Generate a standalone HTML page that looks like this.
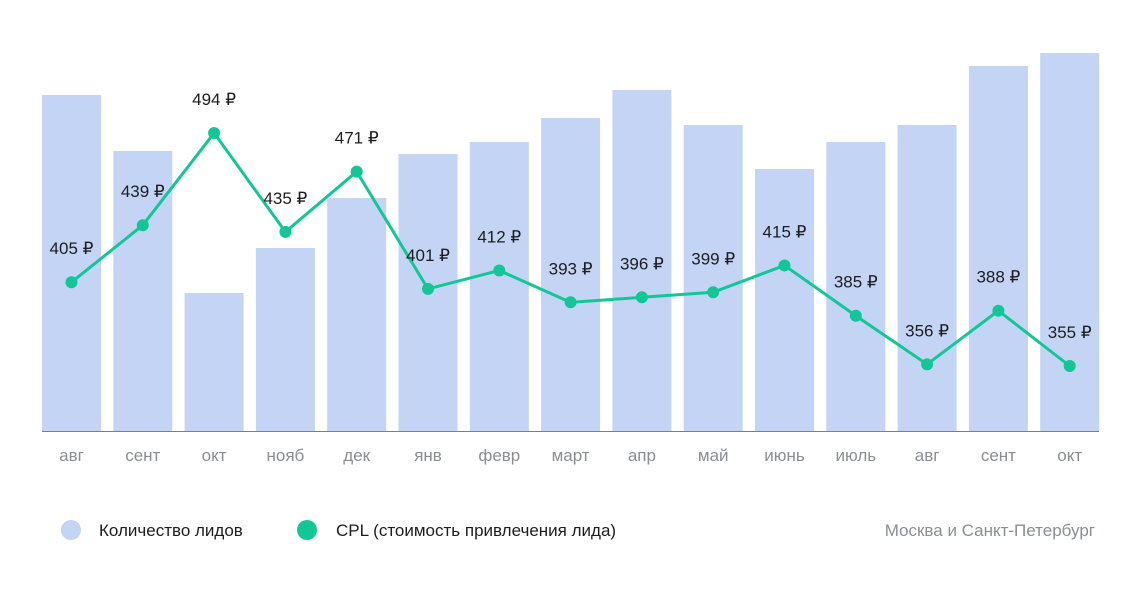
<!DOCTYPE html>
<html><head><meta charset="utf-8">
<style>
html,body{margin:0;padding:0;background:#fff;}
body{width:1140px;height:588px;overflow:hidden;font-family:"Liberation Sans",sans-serif;}
svg text{font-family:"Liberation Sans",sans-serif;}
</style></head>
<body>
<svg id="chart" width="1140" height="588" viewBox="0 0 1140 588" xmlns="http://www.w3.org/2000/svg">
<g id="bars"></g>
<line x1="42" y1="431.5" x2="1099" y2="431.5" stroke="#7a7f88" stroke-width="1"/>
<g id="xlabels"></g>
<g id="line"></g>
<g>
<circle cx="71" cy="530" r="10" fill="#c3d4f5"/>
<text x="99" y="536" font-size="17" fill="#1d1d1f">Количество лидов</text>
<circle cx="307" cy="530" r="10" fill="#12c795"/>
<text x="336" y="536" font-size="17" fill="#1d1d1f">CPL (стоимость привлечения лида)</text>
<text x="1095" y="536" font-size="17" fill="#8a8d93" text-anchor="end">Москва и Санкт-Петербург</text>
</g>
</svg>
<script>
const categories = ["авг","сент","окт","нояб","дек","янв","февр","март","апр","май","июнь","июль","авг","сент","окт"];
const leads = [336,280,138,183,233,277,289,313,341,306,262,289,306,365,378];
const cpl = [405,439,494,435,471,401,412,393,396,399,415,385,356,388,355];

const NS="http://www.w3.org/2000/svg";
const x0=42, step=71.3, barW=59, base=431;
function xCenter(i){return x0+i*step+barW/2;}
function yBar(v){return base-v;}
function yLine(v){return 366-(v-355)*1.676;}

const gb=document.getElementById('bars');
const gx=document.getElementById('xlabels');
const gl=document.getElementById('line');
categories.forEach((c,i)=>{
  const r=document.createElementNS(NS,'rect');
  r.setAttribute('x',x0+i*step);r.setAttribute('y',yBar(leads[i]));
  r.setAttribute('width',barW);r.setAttribute('height',base-yBar(leads[i]));
  r.setAttribute('fill','#c3d4f5');
  
  
  gb.appendChild(r);
  const t=document.createElementNS(NS,'text');
  t.setAttribute('x',xCenter(i));t.setAttribute('y',461);
  t.setAttribute('text-anchor','middle');t.setAttribute('font-size','17');t.setAttribute('fill','#8a8d93');
  t.textContent=c;
  
  
  gx.appendChild(t);
});
const pl=document.createElementNS(NS,'polyline');
pl.setAttribute('points',cpl.map((v,i)=>xCenter(i)+','+yLine(v)).join(' '));
pl.setAttribute('fill','none');pl.setAttribute('stroke','#12c795');pl.setAttribute('stroke-width','3');


gl.appendChild(pl);
cpl.forEach((v,i)=>{
  const c=document.createElementNS(NS,'circle');
  c.setAttribute('cx',xCenter(i));c.setAttribute('cy',yLine(v));c.setAttribute('r',6);c.setAttribute('fill','#12c795');
  
  
  gl.appendChild(c);
  const t=document.createElementNS(NS,'text');
  t.setAttribute('x',xCenter(i));t.setAttribute('y',yLine(v)-28);
  t.setAttribute('text-anchor','middle');t.setAttribute('font-size','17');t.setAttribute('fill','#1d1d1f');
  t.textContent=v+' ₽';
  
  
  gl.appendChild(t);
});
</script>
</body></html>
